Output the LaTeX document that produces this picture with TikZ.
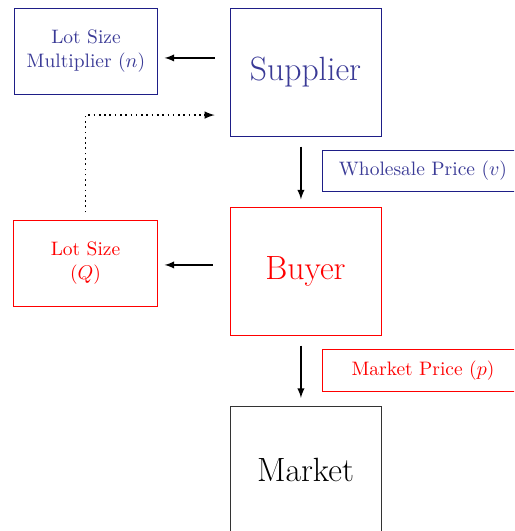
\documentclass[tikz,border=0pt]{standalone}
\usetikzlibrary{arrows,arrows.meta}
\definecolor{supblue}{RGB}{58,58,150}
\definecolor{supline}{RGB}{30,30,135}

\begin{document}
\begin{tikzpicture}[x=0.55pt, y=-0.55pt, > = latex,
  bigbox/.style = {draw, line width=0.5pt, minimum width=83pt, minimum height=70pt, font=\fontsize{18.5}{22}\selectfont},
  infobox/.style = {draw, line width=0.5pt, minimum width=79pt, minimum height=47pt, align=center, font=\fontsize{10.7}{13.2}\selectfont},
  pricebox/.style = {draw, line width=0.5pt, minimum width=111pt, minimum height=23pt, font=\fontsize{10.7}{13.2}\selectfont},
  flow/.style = {thick, ->},
  feedback/.style = {line width=0.9pt, dotted, ->}]

    \clip (0,0) rectangle (514,531);

    % chain
    \node[bigbox, draw=supline, text=supblue] (supplier) at (305.5,72.5) {Supplier};
    \node[bigbox, draw=red, text=red] (buyer) at (305.5,271.5) {Buyer};
    \node[bigbox, draw=black!80] (market) at (305.5,470) {Market};

    % decisions
    \node[infobox, draw=supline, text=supblue] (multiplier) at (86,51.5) {Lot Size\\Multiplier ($n$)};
    \node[infobox, draw=red, text=red] (lotsize) at (85.5,263.5) {Lot Size\\($Q$)};

    % prices
    \node[pricebox, draw=supline, text=supblue] (wholesale) at (423,171) {Wholesale Price ($v$)};
    \node[pricebox, draw=red, text=red] (retail) at (423,370.5) {Market Price ($p$)};

    % arrows
    \draw[flow, shorten <=8.25pt, shorten >=3.85pt] ([yshift=8pt]supplier.west) -- ++(-72,0);
    \draw[flow, shorten <=9.35pt, shorten >=4.4pt] ([yshift=3.6pt]buyer.west) -- ++(-73,0);
    \draw[flow, shorten <=5.5pt, shorten >=4.4pt] ([xshift=-2.5pt]supplier.south) -- ([xshift=-2.5pt]buyer.north);
    \draw[flow, shorten <=5.5pt, shorten >=4.4pt] ([xshift=-2.5pt]buyer.south) -- ([xshift=-2.5pt]market.north);
    \draw[feedback, shorten <=4.4pt, shorten >=8.25pt] (lotsize.north) |- ([yshift=-23.4pt]supplier.west);

\end{tikzpicture}
\end{document}
